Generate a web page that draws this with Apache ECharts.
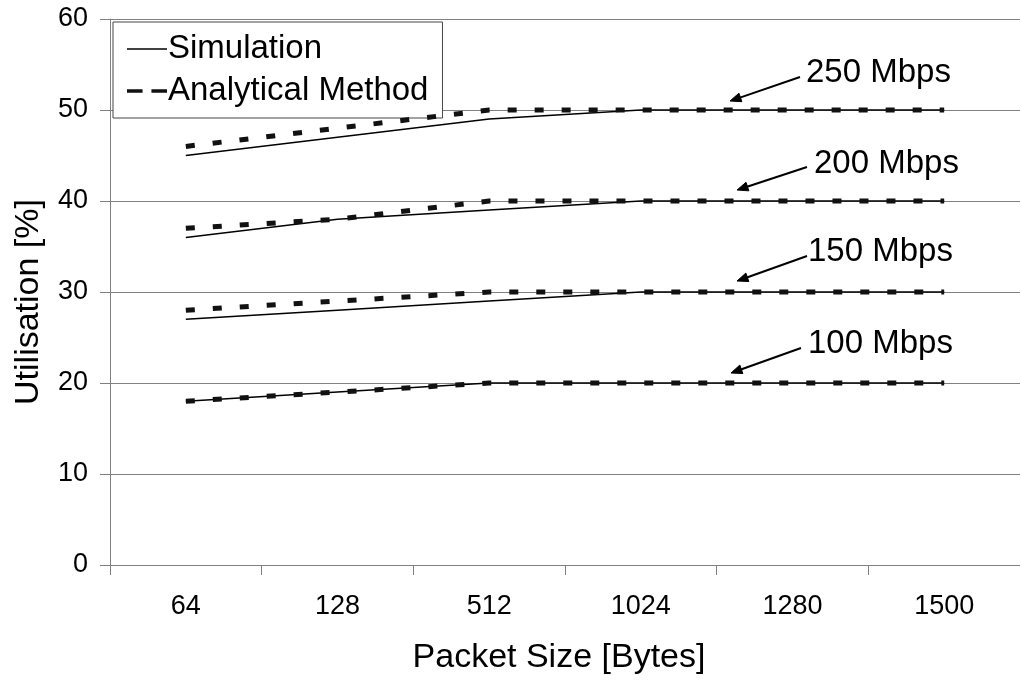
<!DOCTYPE html>
<html>
<head>
<meta charset="utf-8">
<script src="https://cdn.jsdelivr.net/npm/echarts@6/dist/echarts.min.js"></script>
<style>
html,body{margin:0;padding:0;background:#fff;}
#chart{width:1020px;height:680px;}
</style>
</head>
<body>
<div id="chart"></div>
<script>
// ---- data ----
const categories = ['64', '128', '512', '1024', '1280', '1500'];
const sim100 = [18, 19, 20, 20, 20, 20];
const ana100 = [18, 19, 20, 20, 20, 20];
const sim150 = [27, 28, 29, 30, 30, 30];
const ana150 = [28, 29, 30, 30, 30, 30];
const sim200 = [36, 38, 39, 40, 40, 40];
const ana200 = [37, 38, 40, 40, 40, 40];
const sim250 = [45, 47, 49, 50, 50, 50];
const ana250 = [46, 48, 50, 50, 50, 50];
const yTicks = [0, 10, 20, 30, 40, 50, 60];
const rateLabels = ['250 Mbps', '200 Mbps', '150 Mbps', '100 Mbps'];

const FONT = '"Liberation Sans", Arial, sans-serif';

function simSeries(d) {
  return {
    name: 'Simulation', type: 'line', data: d, symbol: 'none', z: 3,
    lineStyle: { color: '#000', width: 1.5, type: 'solid' },
    itemStyle: { color: '#000' }
  };
}
function anaSeries(d) {
  return {
    name: 'Analytical Method', type: 'line', data: d, symbol: 'none', z: 4,
    lineStyle: { color: '#111', width: 5, type: [9, 18], cap: 'butt' },
    itemStyle: { color: '#111' }
  };
}

// annotation (text + arrow) in pixels
const annots = [
  { text: rateLabels[0], tx: 806, ty: 74, x1: 800, y1: 77, x2: 730, y2: 101 },
  { text: rateLabels[1], tx: 814, ty: 165, x1: 807, y1: 167, x2: 737, y2: 190 },
  { text: rateLabels[2], tx: 808, ty: 253, x1: 807, y1: 256, x2: 737, y2: 281 },
  { text: rateLabels[3], tx: 808, ty: 345, x1: 801, y1: 348, x2: 731, y2: 373 }
];
const graphics = [];
annots.forEach(a => {
  graphics.push({
    type: 'text', left: a.tx, top: a.ty - 18, z: 10,
    style: { text: a.text, fontSize: 33, fontFamily: FONT, fill: '#000' }
  });
  const dx = a.x2 - a.x1, dy = a.y2 - a.y1;
  const L = Math.sqrt(dx * dx + dy * dy);
  const ux = dx / L, uy = dy / L;
  const hl = 11, hw = 4.5;
  const bx = a.x2 - ux * hl, by = a.y2 - uy * hl;
  graphics.push({
    type: 'line', z: 10,
    shape: { x1: a.x1, y1: a.y1, x2: bx + ux * 2, y2: by + uy * 2 },
    style: { stroke: '#000', lineWidth: 2 }
  });
  graphics.push({
    type: 'polygon', z: 10,
    shape: { points: [[a.x2, a.y2], [bx - uy * hw, by + ux * hw], [bx + uy * hw, by - ux * hw]] },
    style: { fill: '#000', stroke: '#000', lineWidth: 1 }
  });
});

const chart = echarts.init(document.getElementById('chart'));
chart.setOption({
  animation: false,
  backgroundColor: '#fff',
  grid: { left: 110, top: 19, width: 920, height: 550, containLabel: false },
  legend: {
    orient: 'vertical', left: 113, top: 22,
    padding: [8, 14, 8, 14], itemGap: 4, itemWidth: 40, itemHeight: 14,
    symbolKeepAspect: true,
    borderColor: '#444', borderWidth: 1, backgroundColor: '#fff',
    data: [
      { name: 'Simulation', icon: 'path://M0,0H40V1.5H0Z', itemStyle: { color: '#000' } },
      { name: 'Analytical Method', icon: 'path://M0,0H14V3.2H0Z M22,0H36V3.2H22Z', itemStyle: { color: '#111' } }
    ],
    textStyle: { fontSize: 33, fontFamily: FONT, color: '#000', lineHeight: 38, padding: [0,0,0,-4] }
  },
  xAxis: {
    type: 'category', data: categories, boundaryGap: true,
    name: 'Packet Size [Bytes]', nameLocation: 'middle', nameGap: 76,
    nameTextStyle: { fontSize: 34, fontFamily: FONT, color: '#000', padding: [0, 12, 0, 0] },
    axisLine: { show: true, lineStyle: { color: '#808080', width: 1 } },
    axisTick: { show: true, length: 10, lineStyle: { color: '#808080' } },
    axisLabel: { fontSize: 27, fontFamily: FONT, color: '#000', margin: 28 },
    splitLine: { show: false }
  },
  yAxis: {
    type: 'value', min: yTicks[0], max: yTicks[yTicks.length - 1], interval: 10,
    name: 'Utilisation [%]', nameLocation: 'middle', nameGap: 64, nameRotate: 90,
    nameTextStyle: { fontSize: 34, fontFamily: FONT, color: '#000', padding: [0, 20, 0, 0] },
    axisLine: { show: true, lineStyle: { color: '#808080', width: 1 } },
    axisTick: { show: true, length: 10, inside: false, lineStyle: { color: '#808080' } },
    axisLabel: { fontSize: 27, fontFamily: FONT, color: '#000', margin: 22 },
    splitLine: { show: true, lineStyle: { color: '#808080', width: 1 } }
  },
  series: [
    simSeries(sim250), anaSeries(ana250),
    simSeries(sim200), anaSeries(ana200),
    simSeries(sim150), anaSeries(ana150),
    simSeries(sim100), anaSeries(ana100)
  ],
  graphic: graphics
});
</script>
</body>
</html>
